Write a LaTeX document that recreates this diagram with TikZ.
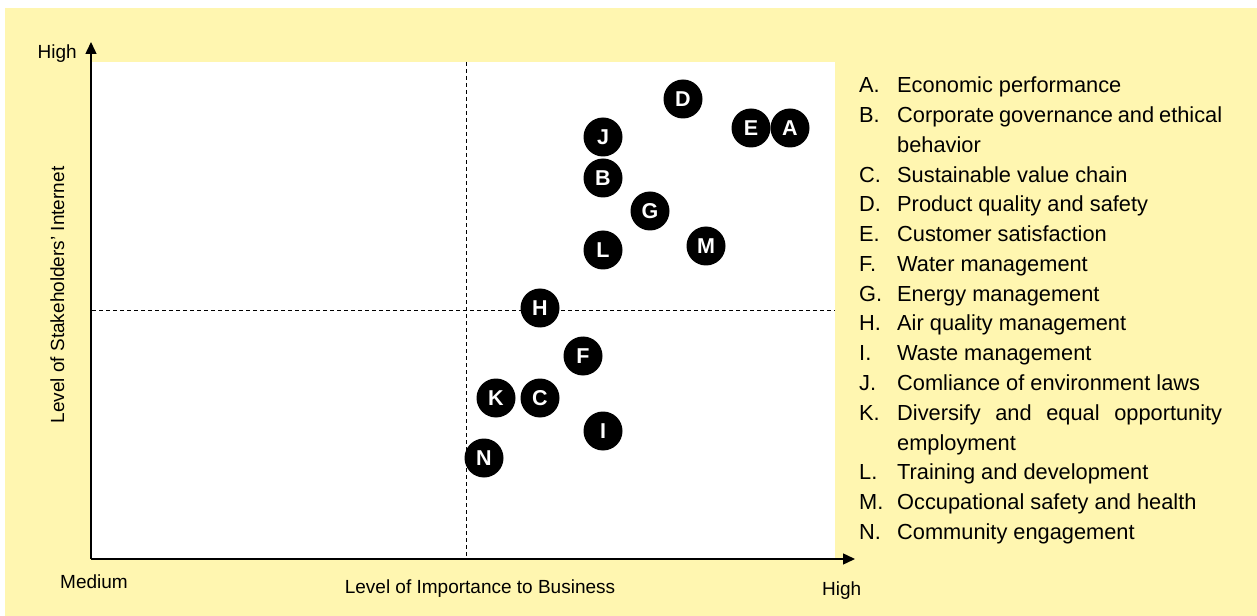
\documentclass[tikz,border=0pt]{standalone}
\usepackage{fontspec}
\setmainfont{Liberation Sans}
\usetikzlibrary{arrows.meta}
\definecolor{bgyellow}{HTML}{FFF6B0}
\tikzset{
  axis/.style={line width=1.4bp,-{Triangle[length=12bp,width=11bp]}},
  guide/.style={line width=0.9bp,dash pattern=on 4bp off 3bp},
  bubble/.style={circle,fill=black,minimum size=39bp,inner sep=0pt,text=white,font=\fontsize{21.5bp}{21.5bp}\selectfont\bfseries},
  axlabel/.style={font=\fontsize{19bp}{19bp}\selectfont,inner sep=0pt},
  leglet/.style={font=\fontsize{21.8bp}{21.8bp}\selectfont,anchor=base west,inner sep=0pt},
  legtxt/.style={font=\fontsize{21.8bp}{21.8bp}\selectfont,anchor=base west,inner sep=0pt}
}
\begin{document}
\begin{tikzpicture}[x=1bp,y=-1bp]
\useasboundingbox (0,0) rectangle (1257,616);
\fill[white] (0,0) rectangle (1257,616);
\fill[bgyellow] (5,8) rectangle (1257,616);
\fill[white] (92,62) rectangle (835,558);
% guides
\coordinate (vt) at (466,62); \coordinate (vb) at (466,558);
\coordinate (hl) at (92,310); \coordinate (hr) at (835,310);
\draw[guide] (vt) -- (vb);
\draw[guide] (hl) -- (hr);
% axes
\coordinate (o) at (91,559);
\coordinate (ytop) at (91,42);
\coordinate (xend) at (855,559);
\draw[axis] (o) -- (ytop);
\draw[axis] (o) -- (xend);
% axis labels
\node[axlabel,anchor=base east] (yhigh) at (77,59) {High};
\node[axlabel,anchor=base west] (xmed) at (60,588) {Medium};
\node[axlabel,anchor=base] (xlab) at (480,593) {Level of Importance to Business};
\node[axlabel,anchor=base west] (xhigh) at (822,595) {High};
\node[axlabel,rotate=90,anchor=base] (ylab) at (64,295) {Level of Stakeholders’ Internet};
% bubbles
\node[bubble] (D) at (683,99) {D};
\node[bubble] (E) at (751,128) {E};
\node[bubble] (A) at (790,128) {A};
\node[bubble] (J) at (603,137) {J};
\node[bubble] (B) at (603,178) {B};
\node[bubble] (G) at (650,211) {G};
\node[bubble] (L) at (603,250) {L};
\node[bubble] (M) at (706,246) {M};
\node[bubble] (H) at (540,308) {H};
\node[bubble] (F) at (583,356) {F};
\node[bubble] (K) at (496,398) {K};
\node[bubble] (C) at (540,398) {C};
\node[bubble] (I) at (603,431) {I};
\node[bubble] (N) at (484,458) {N};
% legend
\node[leglet] (la) at (859,93) {A.};
\node[legtxt] (ta) at (897,93) {Economic performance};
\node[leglet] (lb) at (859,122.75) {B.};
\node[legtxt] (tb) at (897,122.75) {\makebox[325bp][s]{Corporate governance and ethical}};
\node[legtxt] (tb2) at (897,152.5) {behavior};
\node[leglet] (lc) at (859,182.25) {C.};
\node[legtxt] (tc) at (897,182.25) {Sustainable value chain};
\node[leglet] (ld) at (859,212) {D.};
\node[legtxt] (td) at (897,212) {Product quality and safety};
\node[leglet] (le) at (859,241.75) {E.};
\node[legtxt] (te) at (897,241.75) {Customer satisfaction};
\node[leglet] (lf) at (859,271.5) {F.};
\node[legtxt] (tf) at (897,271.5) {Water management};
\node[leglet] (lg) at (859,301.25) {G.};
\node[legtxt] (tg) at (897,301.25) {Energy management};
\node[leglet] (lh) at (859,331) {H.};
\node[legtxt] (th) at (897,331) {Air quality management};
\node[leglet] (li) at (859,360.75) {I.};
\node[legtxt] (ti) at (897,360.75) {Waste management};
\node[leglet] (lj) at (859,390.5) {J.};
\node[legtxt] (tj) at (897,390.5) {Comliance of environment laws};
\node[leglet] (lk) at (859,420.25) {K.};
\node[legtxt] (tk) at (897,420.25) {\makebox[325bp][s]{Diversify and equal opportunity}};
\node[legtxt] (tk2) at (897,450) {employment};
\node[leglet] (ll) at (859,479.75) {L.};
\node[legtxt] (tl) at (897,479.75) {Training and development};
\node[leglet] (lm) at (859,509.5) {M.};
\node[legtxt] (tm) at (897,509.5) {Occupational safety and health};
\node[leglet] (ln) at (859,539.25) {N.};
\node[legtxt] (tn) at (897,539.25) {Community engagement};
\end{tikzpicture}
\end{document}
